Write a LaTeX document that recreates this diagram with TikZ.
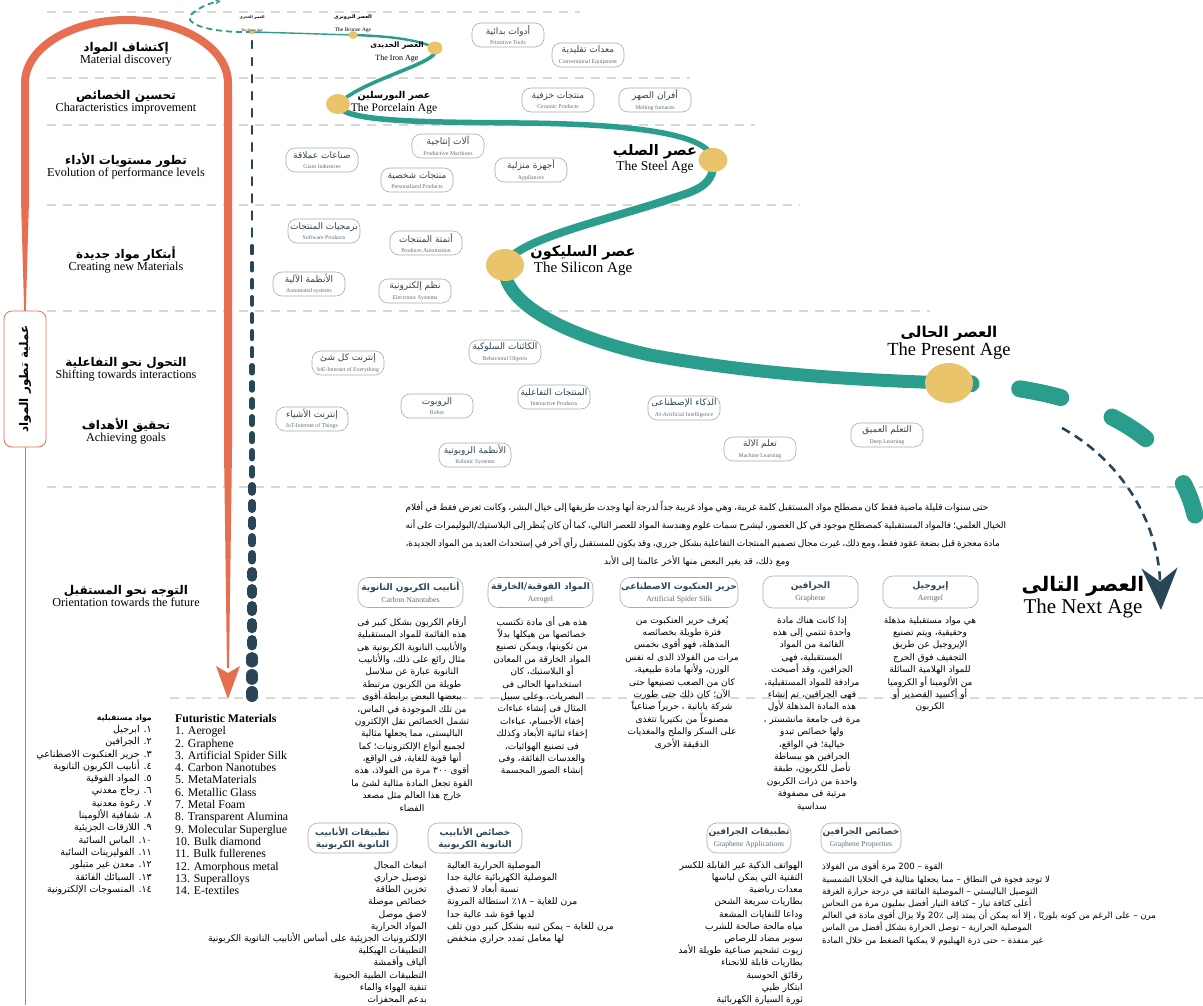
\documentclass[tikz,border=0pt]{standalone}
\usepackage{fontspec}
\setmainfont{Liberation Serif}
\newfontfamily\arabicfont[Script=Arabic]{DejaVu Sans}
\TeXXeTstate=1
\usetikzlibrary{arrows.meta,shapes.geometric,positioning}

\definecolor{timeteal}{RGB}{42,157,140}
\definecolor{agegold}{RGB}{233,196,106}
\definecolor{flowred}{RGB}{231,111,81}
\definecolor{slate}{RGB}{40,70,87}
\definecolor{rulegray}{RGB}{216,216,216}
\definecolor{pillgray}{RGB}{170,170,170}
\definecolor{pilltext}{RGB}{45,70,88}
\definecolor{pillsub}{RGB}{100,110,118}

\newcommand{\ar}[1]{{\arabicfont\beginR #1\endR}}
\newcommand{\arb}[1]{{\arabicfont\bfseries\beginR #1\endR}}
\newcommand{\ltr}[1]{\beginL#1\endL{}}
\newcommand{\fs}[2]{\fontsize{#1}{#2}\selectfont}
\newcommand{\pilltext}[2]{{\fs{9}{10}\ar{#1}}\\[-1.5pt]{\fs{5.8}{6.5}\color{pillsub}#2}}
\newcommand{\stagetext}[2]{{\fs{12}{13}\arb{#1}}\\{\fs{12.2}{13}#2}}
\newcommand{\agelabel}[4]{{\fs{#1}{#1}#3}\\[1pt]{\fs{#2}{#2}#4}}

\begin{document}
\begin{tikzpicture}[x=1pt,y=-1pt,
  rule/.style={draw=rulegray,line width=1.1pt,dash pattern=on 9pt off 7pt},
  pill/.style={draw=pillgray,fill=white,rounded corners=9pt,line width=0.6pt,
    minimum width=72pt,minimum height=24pt,inner sep=1pt,align=center,text=pilltext},
  headpill/.style={draw=pillgray,fill=white,rounded corners=10pt,line width=0.6pt,
    minimum height=30pt,inner sep=1pt,align=center,text=pilltext},
  agedot/.style={ellipse,fill=agegold,inner sep=0pt},
  stage/.style={align=center,inner sep=0pt},
  coltext/.style={align=center,inner sep=0pt,anchor=north,font=\fs{9}{12.4}},
  listtext/.style={inner sep=0pt,font=\fs{9.2}{12.2}}]
\useasboundingbox (0,0) rectangle (1203,1005);

% guide rules
\draw[rule] (47,12) -- (580,12);
\draw[rule] (47,78) -- (690,78);
\draw[rule] (47,125) -- (755,125);
\draw[rule] (47,205) -- (800,205);
\draw[rule] (47,311) -- (930,311);
\draw[rule] (47,487) -- (1203,487);
\draw[rule] (170,698) -- (1203,698);

% process frame
\draw[flowred,line width=1pt] (25,300) -- (25,1005);
\draw[flowred,line width=8pt] (25,200) -- (25,83) .. controls (25,48) and (70.7,20) .. (126.5,20)
  .. controls (182.3,20) and (228,48) .. (228,83) -- (228,450);
\fill[flowred] (21,200) -- (29,200) -- (25.8,312) -- (24.2,312) -- cycle;
\fill[flowred] (224,450) -- (232,450) -- (229,668) -- (227,668) -- cycle;
\fill[flowred] (228,699) -- (216,666) -- (228,673) -- (240,666) -- cycle;
\node[draw=flowred,fill=white,rounded corners=8pt,line width=0.8pt,minimum width=136pt,
  minimum height=42pt,rotate=90,inner sep=0pt] (process) at (25,379) {\fs{12}{13}\arb{عملية تطور المواد}};

% time axis
\foreach \i in {0,...,38}{
  \pgfmathsetmacro\pos{\i/38}
  \pgfmathsetmacro\lw{1.2+10.8*\pos*sqrt(\pos)}
  \pgfmathsetmacro\gp{8-7*\pos}
  \pgfmathsetmacro\ya{40+17*\i+\lw/2}
  \pgfmathsetmacro\yb{\ya+17-\gp-\lw}
  \draw[slate,line width=\lw pt,line cap=round] (252,\ya) -- (252,\yb);
}

% stages
\node[stage] (st-discovery) at (126,54.5) {\stagetext{إكتشاف المواد}{Material discovery}};
\node[stage] (st-improve) at (126,102) {\stagetext{تحسين الخصائص}{Characteristics improvement}};
\node[stage] (st-performance) at (126,166) {\stagetext{تطور مستويات الأداء}{Evolution of performance levels}};
\node[stage] (st-creating) at (126,260) {\stagetext{أبتكار مواد جديدة}{Creating new Materials}};
\node[stage] (st-shifting) at (126,369.5) {\stagetext{التحول نحو التفاعلية}{Shifting towards interactions}};
\node[stage] (st-goals) at (126,431) {\stagetext{تحقيق الأهداف}{Achieving goals}};
\node[stage] (st-future) at (126,596) {\stagetext{التوجه نحو المستقبل}{Orientation towards the future}};

% ages path
\coordinate (c-origin) at (221,1);
\coordinate (c-stone) at (252,32);
\coordinate (c-bronze) at (353,35);
\coordinate (c-iron) at (435,48);
\coordinate (c-porc) at (338,104);
\coordinate (c-steel) at (713,160);
\coordinate (c-sil) at (505,265);
\coordinate (c-present) at (949,383);
\coordinate (c-future) at (1195,515);
\coordinate (c-turn) at (1062,428);
\coordinate (c-next) at (1161,610);

\draw[timeteal,line width=1.8pt,dash pattern=on 6pt off 4pt,-{Stealth[length=6pt,width=5pt]}]
  (c-stone) .. controls (205,33) and (180,22) .. (193,13) .. controls (200,7) and (210,3) .. (c-origin);
\draw[timeteal,line width=1.4pt] (c-stone) .. controls (290,33) and (320,34) .. (c-bronze);
\draw[timeteal,line width=2.4pt] (c-bronze) .. controls (390,36) and (420,40) .. (c-iron);
\draw[timeteal,line width=3.6pt] (c-iron) .. controls (445,62) and (365,78) .. (c-porc);
\draw[timeteal,line width=5.5pt] (c-porc) .. controls (340,122) and (420,122) .. (520,123)
  .. controls (640,124) and (710,135) .. (c-steel);
\draw[timeteal,line width=8pt] (c-steel) .. controls (716,188) and (690,192) .. (667,200)
  .. controls (600,222) and (515,240) .. (c-sil);
\draw[timeteal,line width=13pt] (c-sil) .. controls (500,300) and (560,335) .. (650,355)
  .. controls (760,375) and (860,380) .. (c-present);
\draw[timeteal,line width=17pt,line cap=round,
  dash pattern=on 22pt off 49pt on 42pt off 55pt on 40pt off 59pt on 35pt off 100pt]
  (c-present) .. controls (1080,385) and (1175,430) .. (c-future);
\draw[slate,line width=2.6pt,dash pattern=on 9pt off 6pt,-{Stealth[length=42pt,width=36pt]}]
  (c-turn) .. controls (1120,460) and (1158,520) .. (c-next);

\node[agedot,minimum width=5pt,minimum height=5pt] (stone) at (c-stone) {};
\node[agedot,minimum width=9pt,minimum height=8pt] (bronze) at (c-bronze) {};
\node[agedot,minimum width=15pt,minimum height=13pt] (iron) at (c-iron) {};
\node[agedot,minimum width=24pt,minimum height=20pt] (porcelain) at (c-porc) {};
\node[agedot,minimum width=29pt,minimum height=24pt] (steel) at (c-steel) {};
\node[agedot,minimum width=38pt,minimum height=32pt] (silicon) at (c-sil) {};
\node[agedot,minimum width=48pt,minimum height=40pt] (present) at (c-present) {};

\node[stage] (lb-stone) at (252,24) {\agelabel{3.6}{3.6}{\arb{العصر الحجرى}}{The Stone Age}};
\node[stage] (lb-bronze) at (353,24) {\agelabel{5}{5.5}{\arb{العصر البرونزى}}{The Bronze Age}};
\node[stage] (lb-iron) at (397,52) {\agelabel{7.5}{8}{\arb{العصر الحديدى}}{The Iron Age}};
\node[stage] (lb-porcelain) at (394,103) {\agelabel{9.5}{11.5}{\arb{عصر البورسلين}}{The Porcelain Age}};
\node[stage] (lb-steel) at (655,159) {\agelabel{14.5}{13.5}{\arb{عصر الصلب}}{The Steel Age}};
\node[stage] (lb-silicon) at (583,261) {\agelabel{14.5}{15}{\arb{عصر السليكون}}{The Silicon Age}};
\node[stage] (lb-present) at (949,343) {\agelabel{15}{18.5}{\arb{العصر الحالى}}{The Present Age}};
\node[stage] (lb-next) at (1083,597) {\agelabel{20}{21}{\arb{العصر التالى}}{The Next Age}};

% products of each age
\foreach \nm/\px/\py/\tar/\ten in {
  p-tools/508/35/أدوات بدائية/Primitive Tools,
  p-equip/588/55/معدات تقليدية/Conventional Equipment,
  p-ceramic/558/100/منتجات خزفية/Ceramic Products,
  p-furnace/655/100/أفران الصهر/Melting furnaces,
  p-machines/448/146/آلات إنتاجية/Productive Machines,
  p-giant/322/160/صناعات عملاقة/Giant Industries,
  p-personal/417/180/منتجات شخصية/Personalized Products,
  p-appliance/531/170/أجهزة منزلية/Appliances,
  p-software/324/231/برمجيات المنتجات/Software Products,
  p-automation/426/243/أتمتة المنتجات/Products Automation,
  p-automated/309/284/الأنظمة الآلية/Automated systems,
  p-electronic/415/291/نظم إلكترونية/Electronic Systems,
  p-ioe/348/363/إنترنت كل شئ/IoE-Internet of Everything,
  p-behavior/505/352/الكائنات السلوكية/Behavioral Objects,
  p-interactive/554/397/المنتجات التفاعلية/Interactive Products,
  p-robot/437/406/الروبوت/Robot,
  p-iot/312/419/إنترنت الأشياء/IoT-Internet of Things,
  p-robotic/475/455/الأنظمة الروبوتية/Robotic Systems,
  p-ai/684/408/الذكاء الإصطناعى/AI-Artificial Intelligence,
  p-ml/760/449/تعلم الالة/Machine Learning,
  p-dl/887/435/التعلم العميق/Deep Learning}
  \node[pill] (\nm) at (\px,\py) {\pilltext{\tar}{\ten}};

% introduction
\node[anchor=base,inner sep=0pt] (intro-1) at (697,510) {\fs{9}{10}\hbox to 583pt{\arabicfont\beginR حتى سنوات قليلة ماضية فقط كان مصطلح مواد المستقبل كلمة غريبة، وهي مواد غريبة جداً لدرجة أنها وجدت طريقها إلى خيال البشر، وكانت تعرض فقط في أفلام\endR}};
\node[anchor=base,inner sep=0pt] (intro-2) at (697,528) {\fs{9}{10}\hbox to 583pt{\arabicfont\beginR الخيال العلمي؛ فالمواد المستقبلية كمصطلح موجود في كل العصور، ليشرح سمات علوم وهندسة المواد للعصر التالي، كما أن كان يُنظر إلى البلاستيك/البوليمرات على أنه\endR}};
\node[anchor=base,inner sep=0pt] (intro-3) at (697,546) {\fs{9}{10}\hbox to 583pt{\arabicfont\beginR مادة معجزة قبل بضعة عقود فقط، ومع ذلك، غيرت مجال تصميم المنتجات التفاعلية بشكل جزري، وقد يكون للمستقبل رأي آخر في إستحداث العديد من المواد الجديدة،\endR}};
\node[anchor=base,inner sep=0pt] (intro-4) at (697,564) {\fs{9}{10}\ar{ومع ذلك، قد يغير البعض منها الأخر عالمنا إلى الأبد}};

% future materials
\node[headpill,minimum width=105pt] (h-cnt) at (410.5,592.5) {{\fs{9}{10}\arb{أنابيب الكربون النانوية}}\\{\fs{7.8}{8}\color{pillsub}Carbon Nanotubes}};
\node[headpill,minimum width=105pt] (h-meta) at (540.5,592.5) {{\fs{9}{10}\arb{المواد الفوقية/الخارقة}}\\{\fs{7.8}{8}\color{pillsub}Aerogel}};
\node[headpill,minimum width=118pt] (h-silk) at (679,592.5) {{\fs{9}{10}\arb{حرير العنكبوت الاصطناعى}}\\{\fs{7.8}{8}\color{pillsub}Artificial Spider Silk}};
\node[headpill,minimum width=95pt,minimum height=32pt] (h-graphene) at (810.5,592) {{\fs{9}{10}\arb{الجرافين}}\\{\fs{7.8}{8}\color{pillsub}Graphene}};
\node[headpill,minimum width=95pt,minimum height=32pt] (h-aerogel) at (930.5,592) {{\fs{9}{10}\arb{إيروجيل}}\\{\fs{7.8}{8}\color{pillsub}Aerogel}};

\node[coltext] (t-cnt) at (412,616) {\ar{أرقام الكربون بشكل كبير فى}\\\ar{هذه القائمة للمواد المستقبلية}\\\ar{والأنابيب النانوية الكربونية هى}\\\ar{مثال رائع على ذلك، والأنابيب}\\\ar{النانوية عبارة عن سلاسل}\\\ar{طويلة من الكربون مرتبطة}\\\ar{ببعضها البعض برابطة أقوى}\\\ar{من تلك الموجودة في الماس،}\\\ar{تشمل الخصائص نقل الإلكترون}\\\ar{الباليستى، مما يجعلها مثالية}\\\ar{لجميع أنواع الإلكترونيات؛ كما}\\\ar{أنها قوية للغاية، فى الواقع،}\\\ar{أقوى \ltr{٣٠٠} مرة من الفولاذ، هذه}\\\ar{القوة تجعل المادة مثالية لشئ ما}\\\ar{خارج هذا العالم مثل مصعد}\\\ar{الفضاء}};
\node[coltext] (t-meta) at (542,616) {\ar{هذه هى أى مادة تكتسب}\\\ar{خصائصها من هيكلها بدلاً}\\\ar{من تكوينها، ويمكن تصنيع}\\\ar{المواد الخارقة من المعادن}\\\ar{أو البلاستيك، كان}\\\ar{استخدامها الحالى فى}\\\ar{البصريات، وعلى سبيل}\\\ar{المثال فى إنشاء عباءات}\\\ar{إخفاء الأجسام، عباءات}\\\ar{إخفاء ثنائية الأبعاد وكذلك}\\\ar{فى تصنيع الهوائيات،}\\\ar{والعدسات الفائقة، وفى}\\\ar{إنشاء الصور المجسمة}};
\node[coltext] (t-silk) at (682,616) {\ar{يُعرف حرير العنكبوت من}\\\ar{فترة طويلة بخصائصه}\\\ar{المذهلة، فهو أقوى بخمس}\\\ar{مرات من الفولاذ الذى له نفس}\\\ar{الوزن، ولأنها مادة طبيعية،}\\\ar{كان من الصعب تصنيعها حتى}\\\ar{الآن؛ كان ذلك حتى طورت}\\\ar{شركة يابانية ، حريراً صناعياً}\\\ar{مصنوعاً من بكتيريا تتغذى}\\\ar{على السكر والملح والمغذيات}\\\ar{الدقيقة الأخرى}};
\node[coltext] (t-graphene) at (812,616) {\ar{إذا كانت هناك مادة}\\\ar{واحدة تنتمي إلى هذه}\\\ar{القائمة من المواد}\\\ar{المستقبلية، فهى}\\\ar{الجرافين، وقد أصبحت}\\\ar{مرادفة للمواد المستقبلية،}\\\ar{فهى الجرافين، تم إنشاء}\\\ar{هذه المادة المذهلة لأول}\\\ar{مرة فى جامعة مانشستر ،}\\\ar{ولها خصائص تبدو}\\\ar{خيالية؛ في الواقع،}\\\ar{الجرافين هو ببساطة}\\\ar{تأصل للكربون، طبقة}\\\ar{واحدة من ذرات الكربون}\\\ar{مرتبة فى مصفوفة}\\\ar{سداسية}};
\node[coltext] (t-aerogel) at (930,616) {\ar{هي مواد مستقبلية مذهلة}\\\ar{وحقيقية، ويتم تصنيع}\\\ar{الإيروجيل عن طريق}\\\ar{التجفيف فوق الحرج}\\\ar{للمواد الهلامية السائلة}\\\ar{من الألومينا أو الكروميا}\\\ar{أو أكسيد القصدير أو}\\\ar{الكربون}};

% material lists
\node[anchor=north west,align=left,inner sep=0pt,font=\fs{11.8}{12.3}] (l-future-en) at (175,714)
  {\textbf{Futuristic Materials}\\1. Aerogel\\2. Graphene\\3. Artificial Spider Silk\\4. Carbon Nanotubes\\5. MetaMaterials\\6. Metallic Glass\\7. Metal Foam\\8. Transparent Alumina\\9. Molecular Superglue\\10. Bulk diamond\\11. Bulk fullerenes\\12. Amorphous metal\\13. Superalloys\\14. E-textiles};
\node[anchor=north east,align=right,inner sep=0pt,font=\fs{9.5}{12.3}] (l-future-ar) at (152,714)
  {{\fs{7.8}{12.3}\arb{مواد مستقبلية}}\\\ar{١. ابرجيل}\\\ar{٢. الجرافين}\\\ar{٣. حرير العنكبوت الاصطناعي}\\\ar{٤. أنابيب الكربون النانوية}\\\ar{٥. المواد الفوقية}\\\ar{٦. زجاج معدني}\\\ar{٧. رغوة معدنية}\\\ar{٨. شفافية الألومينا}\\\ar{٩. اللازقات الجزيئية}\\\ar{\ltr{١٠}. الماس السائبة}\\\ar{\ltr{١١}. الفوليرينات السائبة}\\\ar{\ltr{١٢}. معدن غير متبلور}\\\ar{\ltr{١٣}. السبائك الفائقة}\\\ar{\ltr{١٤}. المنسوجات الإلكترونية}};

\node[headpill,minimum width=89pt] (h-cnt-apps) at (352.5,838) {{\fs{9}{10.5}\arb{تطبيقات الأنابيب}}\\{\fs{9}{10.5}\arb{النانوية الكربونية}}};
\node[headpill,minimum width=94pt] (h-cnt-props) at (475,838) {{\fs{9}{10.5}\arb{خصائص الأنابيب}}\\{\fs{9}{10.5}\arb{النانوية الكربونية}}};
\node[headpill,minimum width=84pt] (h-gr-apps) at (749,838) {{\fs{9}{10}\arb{تطبيقات الجرافين}}\\{\fs{7.6}{8}\color{pillsub}Graphene Applications}};
\node[headpill,minimum width=80pt] (h-gr-props) at (861,838) {{\fs{9}{10}\arb{خصائص الجرافين}}\\{\fs{7.6}{8}\color{pillsub}Graphene Properties}};

\node[listtext,anchor=north east,align=right] (l-cnt-apps) at (427,861)
  {\ar{انبعاث المجال}\\\ar{توصيل حراري}\\\ar{تخزين الطاقة}\\\ar{خصائص موصلة}\\\ar{لاصق موصل}\\\ar{المواد الحرارية}\\\ar{الإلكترونيات الجزيئية على أساس الأنابيب النانوية الكربونية}\\\ar{التطبيقات الهيكلية}\\\ar{ألياف وأقمشة}\\\ar{التطبيقات الطبية الحيوية}\\\ar{تنقية الهواء والماء}\\\ar{بدعم المحفزات}};
\node[listtext,anchor=north west,align=left] (l-cnt-props) at (447,861)
  {\ar{الموصلية الحرارية العالية}\\\ar{الموصلية الكهربائية عالية جدا}\\\ar{نسبة أبعاد لا تصدق}\\\ar{مرن للغاية – \ltr{١٨٪} استطالة المرونة}\\\ar{لديها قوة شد عالية جدا}\\\ar{مرن للغاية – يمكن ثنيه بشكل كبير دون تلف}\\\ar{لها معامل تمدد حراري منخفض}};
\node[listtext,anchor=north east,align=right] (l-gr-apps) at (803,861)
  {\ar{الهواتف الذكية غير القابلة للكسر}\\\ar{التقنية التي يمكن لباسها}\\\ar{معدات رياضية}\\\ar{بطاريات سريعة الشحن}\\\ar{وداعا للنفايات المشعة}\\\ar{مياه مالحة صالحة للشرب}\\\ar{سوبر مضاد للرصاص}\\\ar{زيوت تشحيم صناعية طويلة الأمد}\\\ar{بطاريات قابلة للانحناء}\\\ar{رقائق الحوسبة}\\\ar{ابتكار طبي}\\\ar{ثورة السيارة الكهربائية}};
\node[listtext,anchor=north west,align=left,font=\fs{8.6}{12.2}] (l-gr-props) at (822,861)
  {\ar{القوة – \ltr{200} مرة أقوى من الفولاذ}\\\ar{لا توجد فجوة في النطاق – مما يجعلها مثالية في الخلايا الشمسية}\\\ar{التوصيل الباليستي – الموصلية الفائقة في درجة حرارة الغرفة}\\\ar{أعلى كثافة تيار – كثافة التيار أفضل بمليون مرة من النحاس}\\\ar{مرن – على الرغم من كونه بلوريًا ، إلا أنه يمكن أن يمتد إلى \ltr{20٪} ولا يزال أقوى مادة في العالم}\\\ar{الموصلية الحرارية – توصل الحرارة بشكل أفضل من الماس}\\\ar{غير منفذة – حتى ذرة الهيليوم لا يمكنها الضغط من خلال المادة}};
\end{tikzpicture}
\end{document}
